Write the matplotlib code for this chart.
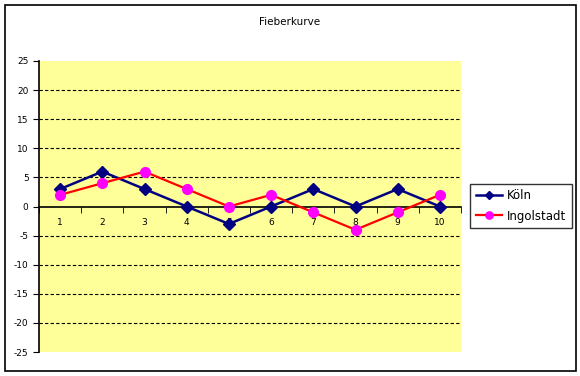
import matplotlib.pyplot as plt
from matplotlib.patches import Rectangle

plt.rcParams['axes.unicode_minus'] = False

# data
tage = [1, 2, 3, 4, 5, 6, 7, 8, 9, 10]
koeln = [3, 6, 3, 0, -3, 0, 3, 0, 3, 0]
ingolstadt = [2, 4, 6, 3, 0, 2, -1, -4, -1, 2]
y_ticks = [-25, -20, -15, -10, -5, 0, 5, 10, 15, 20, 25]

fig = plt.figure(figsize=(5.8, 3.76), dpi=100)
fig.patches.append(Rectangle((5 / 580, 5 / 376), 571 / 580, 366 / 376,
                             transform=fig.transFigure, fill=False,
                             edgecolor='black', linewidth=1.2))

ax = fig.add_axes([39 / 580, 24 / 376, 422 / 580, 291 / 376])
ax.set_facecolor('#FFFF99')

# dashed grid lines
for y in y_ticks:
    if y not in (0, 25, -25):
        ax.axhline(y, color='black', linestyle=(0, (3, 2)), linewidth=0.8, zorder=1)

ax.plot(tage, koeln, color='#000080', marker='D', markersize=6, linewidth=1.8,
        label='Köln', zorder=3)
ax.plot(tage, ingolstadt, color='#FF0000', marker='o', markersize=7,
        markerfacecolor='#FF00FF', markeredgecolor='#FF00FF', linewidth=1.6,
        label='Ingolstadt', zorder=3)

ax.set_xlim(0.5, 10.5)
ax.set_ylim(-25, 25)
ax.set_yticks(y_ticks)
ax.set_xticks(tage)
ax.set_xticks([t + 0.5 for t in [0] + tage], minor=True)
ax.tick_params(axis='x', which='major', length=0, pad=8, labelsize=6.5)
ax.tick_params(axis='x', which='minor', length=4, direction='out')
ax.tick_params(axis='y', length=4, direction='out', labelsize=6.5)

ax.spines['bottom'].set_position(('data', 0))
ax.spines['top'].set_visible(False)
ax.spines['right'].set_visible(False)
ax.spines['left'].set_linewidth(1.2)
ax.spines['bottom'].set_linewidth(1.2)

fig.text(290 / 580, 1 - 22 / 376, 'Fieberkurve', ha='center', va='center', fontsize=7.5)

leg = fig.legend(loc='center', bbox_to_anchor=(521 / 580, 1 - 206 / 376),
                 fontsize=8.5, frameon=True, fancybox=False, edgecolor='black',
                 handlelength=2.2, borderpad=0.5, labelspacing=0.6, handletextpad=0.4,
                 markerscale=0.75)
leg.get_frame().set_linewidth(1.0)

fig.savefig('out.png', dpi=100)
